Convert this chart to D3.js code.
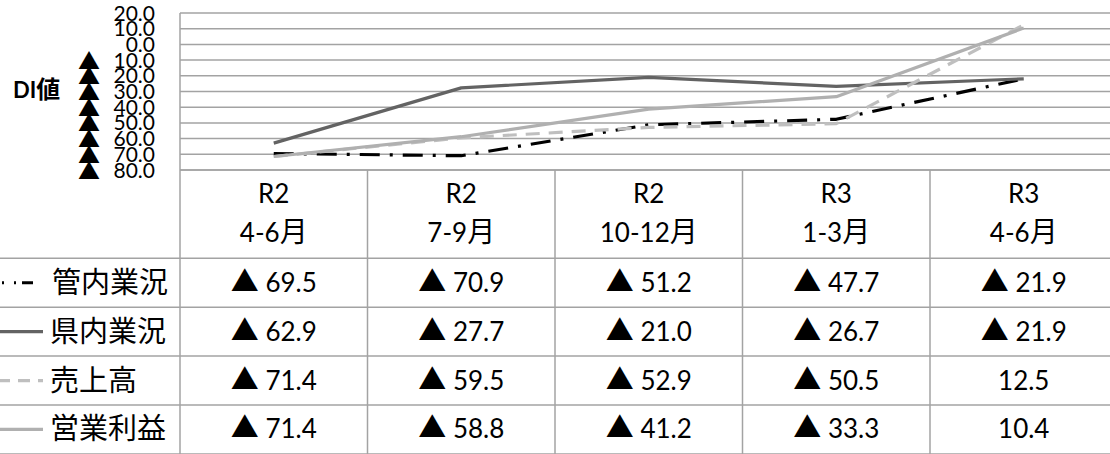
<!DOCTYPE html>
<html>
<head>
<meta charset="utf-8">
<script src="https://cdn.jsdelivr.net/npm/d3@7"></script>
<style>
  body { margin: 0; background: #fff; }
  svg { display: block; }
</style>
</head>
<body>
<svg id="chart" width="1110" height="454"></svg>
<script>
// data
var periodYears  = ["R2", "R2", "R2", "R3", "R3"];
var periodMonths = ["4-6月", "7-9月", "10-12月", "1-3月", "4-6月"];
var seriesNames  = ["管内業況", "県内業況", "売上高", "営業利益"];
var kannaiGyokyo = [-69.5, -70.9, -51.2, -47.7, -21.9];
var kennaiGyokyo = [-62.9, -27.7, -21.0, -26.7, -21.9];
var uriage       = [-71.4, -59.5, -52.9, -50.5, 12.5];
var eigyoRieki   = [-71.4, -58.8, -41.2, -33.3, 10.4];
var yTicks       = [20, 10, 0, -10, -20, -30, -40, -50, -60, -70, -80];
var axisTitle    = "DI値";

var seriesValues = [kannaiGyokyo, kennaiGyokyo, uriage, eigyoRieki];
var seriesStyle = [
  {color: "#000000", dash: "20,10,3,10"},
  {color: "#636363", dash: null},
  {color: "#bfbfbf", dash: "14,9"},
  {color: "#b0b0b0", dash: null}
];

var svg = d3.select("#chart");
var plotLeft = 180, plotRight = 1117.5, plotTop = 13, plotBottom = 170;
var headerBottom = 258.3, rowH = 48.9;
var gridColor = "#a3a3a3";
var cjkFont = "'Noto Sans CJK JP'", latinFont = "Lato, 'Noto Sans CJK JP'";
var latinSize = 26, cjkSize = 28;

var x = d3.scaleBand().domain(d3.range(periodYears.length)).range([plotLeft, plotRight]);
var y = d3.scaleLinear().domain([-80, 20]).range([plotBottom, plotTop]);

// writes text with latin and japanese runs in different fonts
function mixText(sel, str, lSize, cSize){
  var re = /[\u25a0-\u25ff\u3000-\u9fff\uff00-\uffef]+|[^\u25a0-\u25ff\u3000-\u9fff\uff00-\uffef]+/g;
  var parts = str.match(re) || [];
  parts.forEach(function(p){
    var wide = /[\u25a0-\u25ff\u3000-\u9fff\uff00-\uffef]/.test(p);
    sel.append("tspan")
      .text(p)
      .style("font-family", wide ? cjkFont : latinFont)
      .style("font-size", (wide ? cSize : lSize) + "px");
  });
  return sel;
}

// gridlines
svg.append("g").selectAll("line")
  .data(yTicks)
  .enter().append("line")
    .attr("x1", plotLeft).attr("x2", plotRight)
    .attr("y1", function(d){ return y(d); })
    .attr("y2", function(d){ return y(d); })
    .style("stroke", gridColor)
    .style("stroke-width", 1.5);

// y tick labels
var tickG = svg.append("g").style("fill", "#000");
yTicks.forEach(function(d){
  var ty = y(d) + 7.5;
  tickG.append("text")
    .attr("x", 155).attr("y", ty)
    .attr("text-anchor", "end")
    .style("font-family", latinFont)
    .style("font-size", "21px")
    .text(Math.abs(d).toFixed(1));
  if (d < 0){
    tickG.append("text")
      .attr("x", 89).attr("y", ty + 1)
      .attr("text-anchor", "middle")
      .style("font-family", cjkFont)
      .style("font-size", "22px")
      .text("▲");
  }
});

// axis title
var at = svg.append("text")
  .attr("x", 13).attr("y", 98)
  .style("font-weight", "bold");
mixText(at, axisTitle, 22, 24);

// lines
var line = d3.line()
  .x(function(d, i){ return x(i) + x.bandwidth() / 2; })
  .y(function(d){ return y(d); });

svg.append("g").selectAll("path")
  .data(seriesValues)
  .enter().append("path")
    .attr("d", line)
    .style("fill", "none")
    .style("stroke", function(d, i){ return seriesStyle[i].color; })
    .style("stroke-width", 3.2)
    .style("stroke-linejoin", "round")
    .style("stroke-dasharray", function(d, i){ return seriesStyle[i].dash; });

// data table
var table = svg.append("g");
var rowLines = [plotBottom, headerBottom].concat(d3.range(1, seriesNames.length + 1).map(function(i){ return headerBottom + i * rowH; }));
table.selectAll("line.h")
  .data(rowLines)
  .enter().append("line")
    .attr("class", "h")
    .attr("x1", function(d, i){ return i == 0 ? plotLeft : 0; })
    .attr("x2", plotRight)
    .attr("y1", function(d){ return d; })
    .attr("y2", function(d){ return d; })
    .style("stroke", gridColor)
    .style("stroke-width", 1.5);

var colEdges = d3.range(periodYears.length).map(function(i){ return x(i); });
table.selectAll("line.v")
  .data(colEdges)
  .enter().append("line")
    .attr("class", "v")
    .attr("x1", function(d){ return d; })
    .attr("x2", function(d){ return d; })
    .attr("y1", function(d, i){ return i == 0 ? plotTop : plotBottom; })
    .attr("y2", 454)
    .style("stroke", gridColor)
    .style("stroke-width", 1.5);

// header
periodYears.forEach(function(yr, i){
  var cx = x(i) + x.bandwidth() / 2;
  mixText(table.append("text").attr("x", cx).attr("y", plotBottom + 33.3).attr("text-anchor", "middle"), yr, latinSize, cjkSize);
  mixText(table.append("text").attr("x", cx).attr("y", plotBottom + 72.3).attr("text-anchor", "middle"), periodMonths[i], latinSize, cjkSize);
});

function fmt(v){
  return v < 0 ? "▲ " + Math.abs(v).toFixed(1) : v.toFixed(1);
}

seriesNames.forEach(function(name, r){
  var rowTop = headerBottom + r * rowH;
  var cy = rowTop + rowH / 2;
  // legend key
  var st = seriesStyle[r];
  if (r == 0){
    table.append("line")
      .attr("x1", 2).attr("x2", 33)
      .attr("y1", cy).attr("y2", cy)
      .style("stroke", st.color)
      .style("stroke-width", 3.2)
      .style("stroke-dasharray", "2,10,2,6,11");
  } else {
    table.append("line")
      .attr("x1", -20).attr("x2", 43)
      .attr("y1", cy).attr("y2", cy)
      .style("stroke", st.color)
      .style("stroke-width", 3.2)
      .style("stroke-dasharray", st.dash ? "12,8" : null)
      .style("stroke-dashoffset", st.dash ? 2 : null);
  }
  mixText(table.append("text").attr("x", r == 0 ? 52 : 50).attr("y", cy + 10), name, latinSize, 29);
  seriesValues[r].forEach(function(v, i){
    var cx = x(i) + x.bandwidth() / 2;
    mixText(table.append("text").attr("x", cx).attr("y", cy + 9), fmt(v), latinSize, cjkSize)
      .attr("text-anchor", "middle");
  });
});
</script>
</body>
</html>
